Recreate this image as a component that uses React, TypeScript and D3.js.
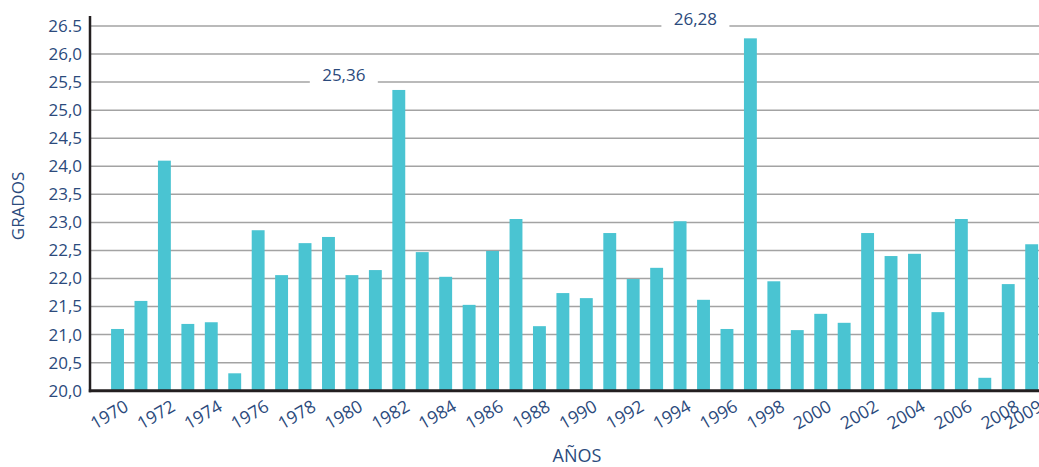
import { useEffect, useRef } from "react";
import * as d3 from "d3";

const years = [
  1970, 1971, 1972, 1973, 1974, 1975, 1976, 1977, 1978, 1979,
  1980, 1981, 1982, 1983, 1984, 1985, 1986, 1987, 1988, 1989,
  1990, 1991, 1992, 1993, 1994, 1995, 1996, 1997, 1998, 1999,
  2000, 2001, 2002, 2003, 2004, 2005, 2006, 2007, 2008, 2009,
];
const grados = [
  21.1, 21.6, 24.1, 21.19, 21.22, 20.31, 22.86, 22.06, 22.63, 22.74,
  22.06, 22.15, 25.36, 22.47, 22.03, 21.53, 22.49, 23.06, 21.15, 21.74,
  21.65, 22.81, 21.99, 22.19, 23.02, 21.62, 21.1, 26.28, 21.95, 21.08,
  21.37, 21.21, 22.81, 22.4, 22.44, 21.4, 23.06, 20.23, 21.9, 22.61,
];
const yTicks = [20, 20.5, 21, 21.5, 22, 22.5, 23, 23.5, 24, 24.5, 25, 25.5, 26, 26.5];
const yTickLabels = [
  "20,0", "20,5", "21,0", "21,5", "22,0", "22,5", "23,0", "23,5",
  "24,0", "24,5", "25,0", "25,5", "26,0", "26.5",
];
const xTickLabels = years.filter((y) => y % 2 === 0 || y === 2009);
const annotated = [
  { year: 1982, label: "25,36" },
  { year: 1997, label: "26,28" },
];

const TEXT = "#2b4a7c";
const BAR = "#4ac4d2";
const FONT = "'Open Sans', 'Noto Sans', sans-serif";

export default function App() {
  const ref = useRef<SVGSVGElement>(null);

  useEffect(() => {
    const width = 1039;
    const axisX = 90;
    const svg = d3.select(ref.current);
    svg.selectAll("*").remove();

    const x = d3
      .scaleBand<number>()
      .domain(years)
      .range([105.8, 105.8 + 40 * 23.44])
      .paddingInner(0.45)
      .paddingOuter(0.225);
    const y = d3.scaleLinear().domain([20, 26.5]).range([390.7, 26]);

    // grid
    svg
      .append("g")
      .selectAll("line")
      .data(yTicks.filter((t) => t > 20))
      .enter()
      .append("line")
      .attr("x1", axisX)
      .attr("x2", width)
      .attr("y1", (d) => y(d))
      .attr("y2", (d) => y(d))
      .attr("stroke", "#a3a3a3")
      .attr("stroke-width", 1.5);

    // gaps in the grid behind the annotations
    annotated.forEach((a) => {
      const cx = (x(a.year) as number) + x.bandwidth() / 2 - 55;
      const v = grados[years.indexOf(a.year)];
      const gy = y(Math.ceil(v * 2) / 2);
      svg
        .append("rect")
        .attr("x", cx - 34)
        .attr("y", gy - 4)
        .attr("width", 68)
        .attr("height", 8)
        .attr("fill", "#fff");
    });

    // bars
    svg
      .append("g")
      .selectAll("rect")
      .data(years)
      .enter()
      .append("rect")
      .attr("x", (d) => x(d) as number)
      .attr("y", (d, i) => y(grados[i]))
      .attr("width", x.bandwidth())
      .attr("height", (d, i) => y(20) - y(grados[i]))
      .attr("fill", BAR);

    // axes
    svg
      .append("line")
      .attr("x1", axisX)
      .attr("x2", axisX)
      .attr("y1", 16)
      .attr("y2", y(20) + 1.5)
      .attr("stroke", "#231f20")
      .attr("stroke-width", 2.5);
    svg
      .append("line")
      .attr("x1", axisX - 1.2)
      .attr("x2", width)
      .attr("y1", y(20))
      .attr("y2", y(20))
      .attr("stroke", "#231f20")
      .attr("stroke-width", 3);

    // y tick labels
    svg
      .append("g")
      .selectAll("text")
      .data(yTicks)
      .enter()
      .append("text")
      .attr("x", 82)
      .attr("y", (d) => y(d))
      .attr("dy", "0.35em")
      .attr("text-anchor", "end")
      .attr("font-family", FONT)
      .attr("font-size", 17)
      .attr("fill", TEXT)
      .text((d, i) => yTickLabels[i]);

    // x tick labels
    svg
      .append("g")
      .selectAll("text")
      .data(xTickLabels)
      .enter()
      .append("text")
      .attr(
        "transform",
        (d) => `translate(${(x(d) as number) + x.bandwidth() / 2 + 5.5}, ${y(20) + 8}) rotate(-30)`
      )
      .attr("dy", "0.75em")
      .attr("text-anchor", "end")
      .attr("font-family", FONT)
      .attr("font-size", 17.5)
      .attr("fill", TEXT)
      .text((d) => String(d));

    // annotations
    annotated.forEach((a) => {
      const cx = (x(a.year) as number) + x.bandwidth() / 2 - 55;
      const v = grados[years.indexOf(a.year)];
      const gy = y(Math.ceil(v * 2) / 2);
      svg
        .append("text")
        .attr("x", cx)
        .attr("y", gy)
        .attr("dy", "-0.05em")
        .attr("text-anchor", "middle")
        .attr("font-family", FONT)
        .attr("font-size", 17)
        .attr("fill", TEXT)
        .text(a.label);
    });

    // axis titles
    svg
      .append("text")
      .attr("transform", `translate(24, 206) rotate(-90)`)
      .attr("text-anchor", "middle")
      .attr("font-family", FONT)
      .attr("font-size", 17)
      .attr("fill", TEXT)
      .text("GRADOS");
    svg
      .append("text")
      .attr("x", 577)
      .attr("y", 462)
      .attr("text-anchor", "middle")
      .attr("font-family", FONT)
      .attr("font-size", 18)
      .attr("fill", TEXT)
      .text("AÑOS");
  }, []);

  return (
    <svg
      ref={ref}
      width={1039}
      height={467}
      style={{ position: "absolute", left: 0, top: 0, background: "#fff" }}
    />
  );
}
